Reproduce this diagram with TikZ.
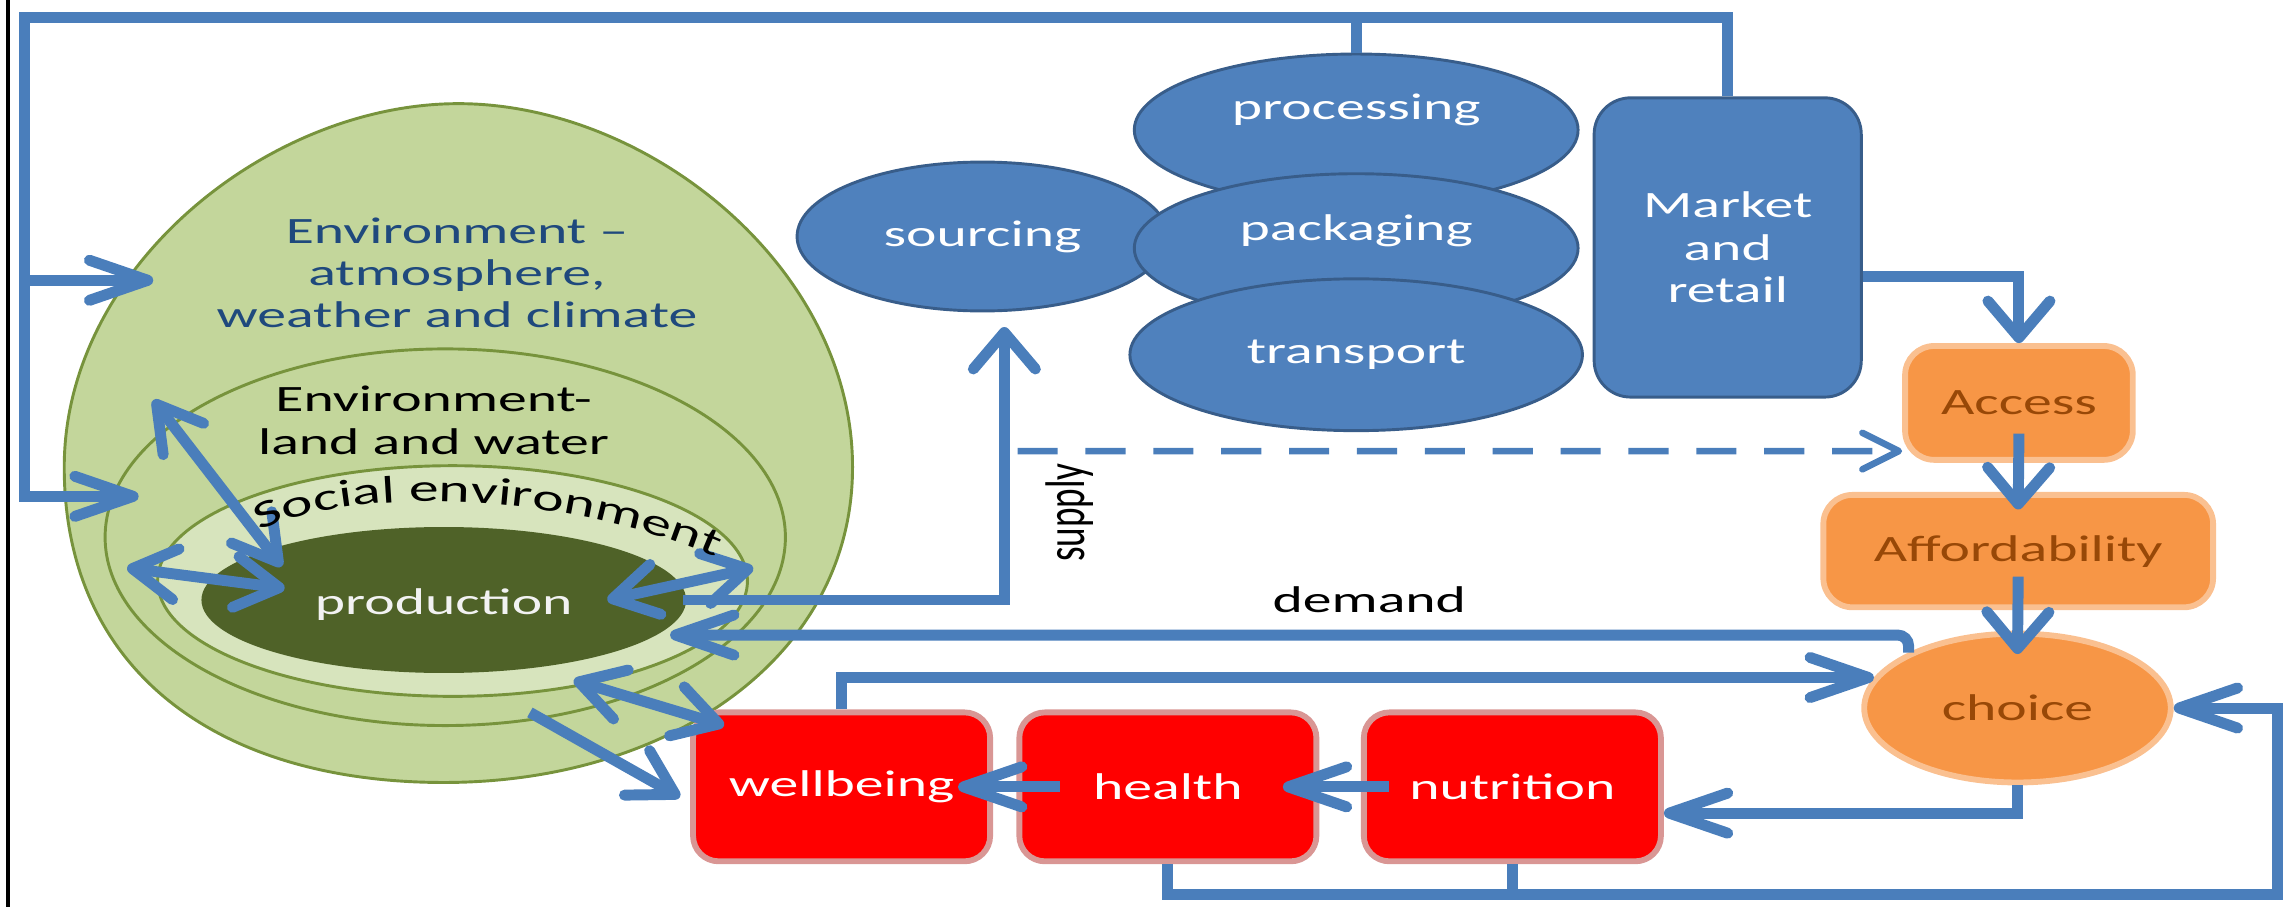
\documentclass[tikz,border=0pt]{standalone}
\usepackage{fontspec}
\usepackage{graphicx}
\setmainfont[FakeStretch=1.55]{Carlito}
\newfontfamily\plainfont{Carlito}
\usepackage{tikz}
\definecolor{lin}{HTML}{4A7EBB}
\definecolor{blu}{HTML}{4F81BD}
\definecolor{bluedge}{HTML}{385D8A}
\definecolor{gre}{HTML}{C3D69B}
\definecolor{greedge}{HTML}{77933C}
\definecolor{soc}{HTML}{D7E4BD}
\definecolor{prod}{HTML}{4F6228}
\definecolor{ora}{HTML}{F79646}
\definecolor{oraedge}{HTML}{FAC090}
\definecolor{oratxt}{HTML}{984807}
\definecolor{redbox}{HTML}{FF0000}
\definecolor{rededge}{HTML}{D99694}
\definecolor{envtxt}{HTML}{1F497D}
\usetikzlibrary{arrows.meta,shapes.geometric,decorations.text}

\begin{document}
\begin{tikzpicture}[x=0.2mm,y=-0.2mm,font=\fontsize{14.5}{16.5}\selectfont,
  line/.style={lin,line width=1.5mm},
  harr/.style={line,-{Straight Barb[length=8mm,width=5.5mm,round]}},
  varr/.style={line,-{Straight Barb[length=5mm,width=8.5mm,round]}},
  darr/.style={line,{Straight Barb[length=6mm,width=7mm,round]}-{Straight Barb[length=6mm,width=7mm,round]}},
  ring/.style={ellipse,draw=greedge,line width=0.4mm,inner sep=0pt},
  blueell/.style={ellipse,fill=blu,draw=bluedge,line width=0.4mm,inner sep=0pt,text=white},
  orabox/.style={fill=ora,draw=oraedge,line width=0.8mm,text=oratxt,inner sep=0pt},
  redb/.style={rectangle,rounded corners=3.5mm,fill=redbox,draw=rededge,line width=0.8mm,text=white,
    minimum width=40.7mm,minimum height=20.4mm,inner sep=0pt}]
\useasboundingbox (0,0) rectangle (1568,621);
\draw[black,line width=0.5mm] (5.5,0) -- (5.5,621); % frame

% environment rings
\filldraw[fill=gre,draw=greedge,line width=0.4mm] (314,71) .. controls (184,71) and (44,183) .. (44,320)
  .. controls (44,460) and (150,536) .. (304,536) .. controls (459,536) and (584,450) .. (584,320)
  .. controls (584,183) and (444,71) .. (314,71); % outer egg
\node[ring,fill=gre,minimum width=93.2mm,minimum height=51.6mm] (land) at (305,368) {};
\node[ring,fill=soc,minimum width=80.8mm,minimum height=31.6mm] (social) at (310,398) {};
\node[ellipse,fill=prod,minimum width=66.4mm,minimum height=20mm,inner sep=0pt] (prod) at (304,411) {};
\node[envtxt,align=center] (envtext) at (313,187) {Environment --\\atmosphere,\\weather and climate};
\node[align=center] (landtext) at (297,288) {Environment-\\land and water};
\node[text=white!95!black] (prodtext) at (304,414) {production};

% food chain
\node[blueell,minimum width=50.8mm,minimum height=20.4mm] (src) at (673,162) {sourcing};
\node[blueell,minimum width=60.8mm,minimum height=20.8mm] (proc) at (929,89) {};
\node[text=white] (proctext) at (929,75) {processing};
\node[blueell,minimum width=60.8mm,minimum height=20.4mm] (pack) at (929,170) {};
\node[text=white] (packtext) at (929,158) {packaging};
\node[blueell,minimum width=62mm,minimum height=20.8mm] (trans) at (929,243) {transport};
\node[rectangle,rounded corners=5mm,fill=blu,draw=bluedge,line width=0.4mm,text=white,align=center,
  minimum width=36.6mm,minimum height=41mm] (market) at (1183.5,169.5) {Market\\and\\retail};

% consumer side
\node[orabox,rounded corners=4mm,minimum width=31.2mm,minimum height=15.6mm] (access) at (1383,276) {Access};
\node[orabox,rounded corners=4mm,minimum width=53.4mm,minimum height=15.4mm] (afford) at (1382.5,377.5) {Affordability};
\node[orabox,ellipse,minimum width=42mm,minimum height=20.4mm] (choice) at (1382,485) {choice};
\node[redb] (well) at (576.5,539) {wellbeing};
\node[redb] (health) at (800,539) {health};
\node[redb] (nutr) at (1036,539) {nutrition};

% big loop back into the environment
\coordinate (atmo) at (105,192);
\coordinate (landin) at (95,340);
\draw[harr] (market.north) |- (17,12) |- (landin);
\draw[harr] (17,192) -- (atmo);
\draw[line] (proc.north) -- (proc.north |- 0,12);

% arrows inside the rings
\coordinate (la) at (105,274);
\coordinate (lb) at (193,388);
\coordinate (lc) at (87,389);
\coordinate (ld) at (195,403);
\coordinate (ra) at (416,411);
\coordinate (rb) at (516,389);
\coordinate (ba) at (393,466);
\coordinate (bb) at (496,497);
\coordinate (bc) at (363,488);
\draw[darr] (la) -- (lb);
\draw[darr] (lc) -- (ld);
\draw[darr] (ra) -- (rb);
\draw[darr] (ba) -- (bb);
\draw[line,-{Straight Barb[length=6mm,width=7mm,round]}] (bc) -- ([yshift=-1.4mm,xshift=-1.4mm]well.west);
\path[decorate,decoration={text along path,text align=center,
  text={|\fontsize{15}{18}\selectfont|Social environment}}]
  (182,362) .. controls (240,335) and (380,335) .. (486,380); % curved label

% supply and demand
\coordinate (supin) at (468,411);
\coordinate (demin) at (459,435);
\coordinate (dash0) at (697,309);
\draw[varr] (supin) -| ([xshift=3mm,yshift=-2mm]src.south);
\node (supply) at (733,351) {\scalebox{1.5}[1]{\rotatebox{90}{\plainfont supply}}};
\draw[lin,line width=0.9mm,dash pattern=on 5.5mm off 3.8mm,-{Straight Barb[length=5mm,width=5mm,round]}]
  (dash0) -- ([yshift=-6.6mm]access.west);
\draw[harr,rounded corners=1.5mm] (choice.153) |- (demin);
\node (demand) at (938,411) {demand};

\draw[varr] ([yshift=-4mm]market.east) -| (access.north);
\draw[varr] ([yshift=4mm]access.south) -- ([yshift=-2.4mm]afford.north);
\draw[varr] ([yshift=4.6mm]afford.south) -- ([yshift=-3.2mm]choice.north);
\draw[harr] (well.north) |- (choice.168);
\draw[harr] (choice.south) |- ([yshift=-3.6mm]nutr.east);
\draw[harr] ([xshift=3.8mm]nutr.west) -- ([xshift=-5mm]health.east);
\draw[harr] ([xshift=6mm]health.west) -- ([xshift=-4.8mm]well.east);
\draw[harr] (health.south) |- (1560,613) |- (choice.east); % feedback
\draw[line] (nutr.south) -- (nutr.south |- 0,613);
\end{tikzpicture}
\end{document}
